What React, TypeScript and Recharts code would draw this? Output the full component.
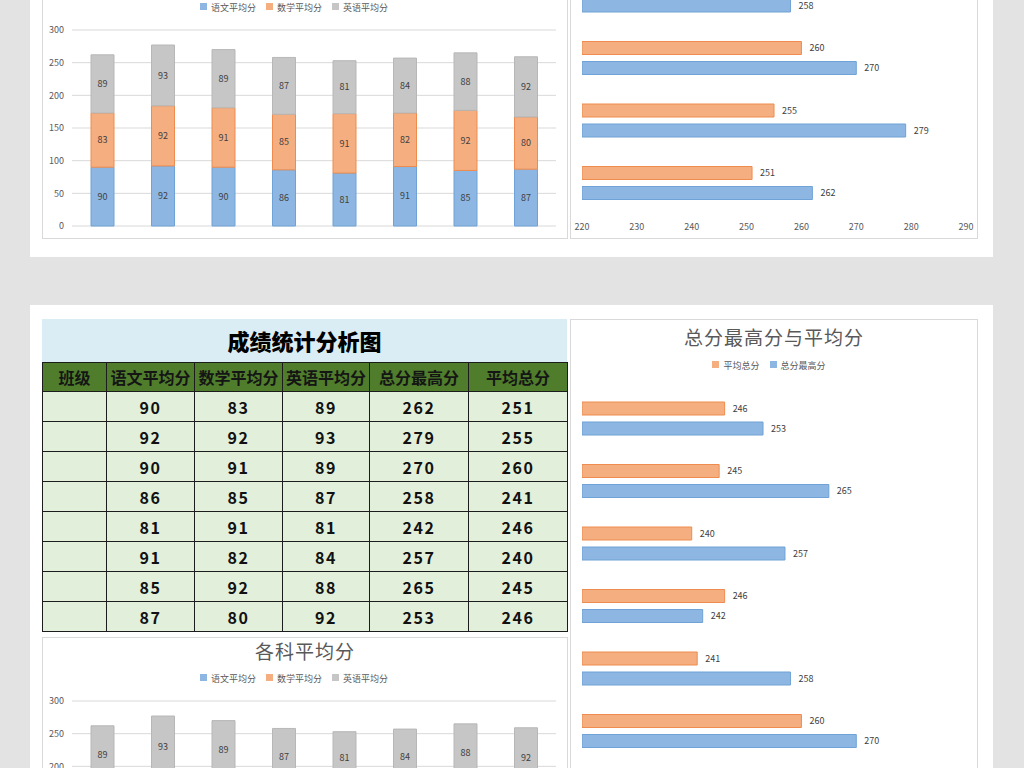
import { BarChart, Bar, XAxis, YAxis, CartesianGrid, Legend, LabelList } from 'recharts'

// 班级 column is empty in the sheet, so classes are keyed by row number only
const classIds = ['1', '2', '3', '4', '5', '6', '7', '8']
const chineseAvg = [90, 92, 90, 86, 81, 91, 85, 87]
const mathAvg = [83, 92, 91, 85, 91, 82, 92, 80]
const englishAvg = [89, 93, 89, 87, 81, 84, 88, 92]
const maxTotal = [262, 279, 270, 258, 242, 257, 265, 253]
const avgTotal = [251, 255, 260, 241, 246, 240, 245, 246]

const subjectTicks = [0, 50, 100, 150, 200, 250, 300]
const totalTicks = [220, 230, 240, 250, 260, 270, 280, 290]
const tableHeaders = ['班级', '语文平均分', '数学平均分', '英语平均分', '总分最高分', '平均总分']
const subjectNames = ['语文平均分', '数学平均分', '英语平均分']
const totalNames = ['平均总分', '总分最高分']

const rows = classIds.map((id, i) => ({
  id,
  chinese: chineseAvg[i],
  math: mathAvg[i],
  english: englishAvg[i],
  max: maxTotal[i],
  avg: avgTotal[i],
}))

const FONT = '"Noto Sans CJK SC", "Liberation Sans", sans-serif'
const TEXT = '#595959'

const BLUE = { fill: '#8db7e2', stroke: '#6fa2d6' }
const ORANGE = { fill: '#f5ae80', stroke: '#ee8c4f' }
const GRAY = { fill: '#c6c6c6', stroke: '#b7b7b7' }

const legendText = (value: string) => (
  <span style={{ color: TEXT, fontSize: 9 }}>{value}</span>
)

// keep legend items in series order (recharts sorts by name otherwise)
const keepOrder = (names: string[]) => (item: any) => names.indexOf(item.value)

function ChartTitle({ text, top }: { text: string; top: number }) {
  return (
    <div
      style={{
        position: 'absolute',
        left: 0,
        right: 0,
        top,
        textAlign: 'center',
        fontSize: 19,
        color: TEXT,
        fontFamily: FONT,
        lineHeight: '24px',
        letterSpacing: 1,
      }}
    >
      {text}
    </div>
  )
}

function SubjectChart({ left, top }: { left: number; top: number }) {
  return (
    <div
      style={{
        position: 'absolute',
        left,
        top,
        width: 526,
        height: 273,
        border: '1px solid #d9d9d9',
        boxSizing: 'border-box',
        background: '#fff',
      }}
    >
      <ChartTitle text="各科平均分" top={1} />
      <div style={{ position: 'absolute', left: -1, top: -1 }}>
        <BarChart
          width={526}
          height={273}
          data={rows}
          margin={{ top: 64, right: 12, bottom: 13, left: 0 }}
          style={{ fontFamily: FONT }}
        >
          <CartesianGrid vertical={false} stroke="#d9d9d9" />
          <XAxis dataKey="id" height={0} tick={false} tickLine={false} axisLine={{ stroke: '#bfbfbf' }} />
          <YAxis
            width={30}
            domain={[0, 300]}
            ticks={subjectTicks}
            axisLine={false}
            tickLine={false}
            tickSize={0}
            tickMargin={8}
            tick={{ fontSize: 9, fill: TEXT }}
          />
          <Legend
            verticalAlign="middle"
            align="center"
            iconType="square"
            iconSize={7}
            formatter={legendText}
            itemSorter={keepOrder(subjectNames)}
            wrapperStyle={{ top: 32, lineHeight: '12px' }}
          />
          <Bar dataKey="chinese" name={subjectNames[0]} stackId="s" barSize={23} {...BLUE} isAnimationActive={false}>
            <LabelList dataKey="chinese" position="center" fontSize={9} fill="#404040" />
          </Bar>
          <Bar dataKey="math" name={subjectNames[1]} stackId="s" barSize={23} {...ORANGE} isAnimationActive={false}>
            <LabelList dataKey="math" position="center" fontSize={9} fill="#404040" />
          </Bar>
          <Bar dataKey="english" name={subjectNames[2]} stackId="s" barSize={23} {...GRAY} isAnimationActive={false}>
            <LabelList dataKey="english" position="center" fontSize={9} fill="#404040" />
          </Bar>
        </BarChart>
      </div>
    </div>
  )
}

function TotalChart({ left, top }: { left: number; top: number }) {
  return (
    <div
      style={{
        position: 'absolute',
        left,
        top,
        width: 408,
        height: 593,
        border: '1px solid #d9d9d9',
        boxSizing: 'border-box',
        background: '#fff',
      }}
    >
      <ChartTitle text="总分最高分与平均分" top={5} />
      <div style={{ position: 'absolute', left: -1, top: -1 }}>
        <BarChart
          layout="vertical"
          width={408}
          height={593}
          data={rows}
          barGap={7}
          margin={{ top: 68, right: 12, bottom: 0, left: 12 }}
          style={{ fontFamily: FONT }}
        >
          <XAxis
            type="number"
            domain={[220, 290]}
            ticks={totalTicks}
            allowDataOverflow
            height={25}
            axisLine={false}
            tickLine={false}
            tickSize={0}
            tickMargin={10}
            tick={{ fontSize: 9, fill: TEXT }}
          />
          <YAxis
            type="category"
            dataKey="id"
            reversed
            width={0}
            tick={false}
            tickLine={false}
            axisLine={{ stroke: '#a6a6a6' }}
          />
          <Legend
            verticalAlign="middle"
            align="center"
            iconType="square"
            iconSize={7}
            formatter={legendText}
            itemSorter={keepOrder(totalNames)}
            wrapperStyle={{ top: 37, lineHeight: '12px' }}
          />
          <Bar dataKey="avg" name={totalNames[0]} barSize={13} {...ORANGE} isAnimationActive={false}>
            <LabelList dataKey="avg" position="right" offset={8} fontSize={9} fill="#404040" />
          </Bar>
          <Bar dataKey="max" name={totalNames[1]} barSize={13} {...BLUE} isAnimationActive={false}>
            <LabelList dataKey="max" position="right" offset={8} fontSize={9} fill="#404040" />
          </Bar>
        </BarChart>
      </div>
    </div>
  )
}

const colWidths = [64, 88, 88, 87, 99, 99]
const cellBorder = '1.5px solid #1c1c1c'

function ScoreTable({ left, top }: { left: number; top: number }) {
  return (
    <div style={{ position: 'absolute', left, top, width: 525, fontFamily: FONT }}>
      <div
        style={{
          height: 43,
          background: '#daedf5',
          textAlign: 'center',
          fontSize: 22,
          fontWeight: 900,
          lineHeight: '43px',
          color: '#000',
        }}
      >
        成绩统计分析图
      </div>
      <table style={{ borderCollapse: 'collapse', tableLayout: 'fixed', width: 525 }}>
        <colgroup>
          {colWidths.map((w, i) => (
            <col key={i} style={{ width: w }} />
          ))}
        </colgroup>
        <thead>
          <tr style={{ height: 29 }}>
            {tableHeaders.map((h) => (
              <th
                key={h}
                style={{
                  border: cellBorder,
                  background: '#4f7d2c',
                  color: '#151515',
                  fontSize: 16,
                  fontWeight: 700,
                  padding: 0,
                  whiteSpace: 'nowrap',
                }}
              >
                {h}
              </th>
            ))}
          </tr>
        </thead>
        <tbody>
          {rows.map((r) => (
            <tr key={r.id} style={{ height: 30 }}>
              {['', r.chinese, r.math, r.english, r.max, r.avg].map((v, j) => (
                <td
                  key={j}
                  style={{
                    border: cellBorder,
                    background: '#e2efda',
                    textAlign: 'center',
                    fontSize: 16,
                    fontWeight: 700,
                    letterSpacing: 1.5,
                    padding: 0,
                    color: '#111',
                  }}
                >
                  {v}
                </td>
              ))}
            </tr>
          ))}
        </tbody>
      </table>
    </div>
  )
}

export default function App() {
  return (
    <div
      style={{
        position: 'relative',
        width: 1024,
        height: 768,
        overflow: 'hidden',
        background: '#e3e3e3',
      }}
    >
      <style>{'body{margin:0}'}</style>
      {/* upper sheet: lower part of the same two charts */}
      <div
        style={{
          position: 'absolute',
          left: 30,
          top: 0,
          width: 963,
          height: 257,
          background: '#fff',
          overflow: 'hidden',
        }}
      >
        <SubjectChart left={12} top={-34} />
        <TotalChart left={540} top={-354} />
      </div>
      {/* lower sheet: table and both charts from the top */}
      <div
        style={{
          position: 'absolute',
          left: 30,
          top: 305,
          width: 963,
          height: 463,
          background: '#fff',
          overflow: 'hidden',
        }}
      >
        <ScoreTable left={12} top={14} />
        <SubjectChart left={12} top={332} />
        <TotalChart left={540} top={14} />
      </div>
    </div>
  )
}
